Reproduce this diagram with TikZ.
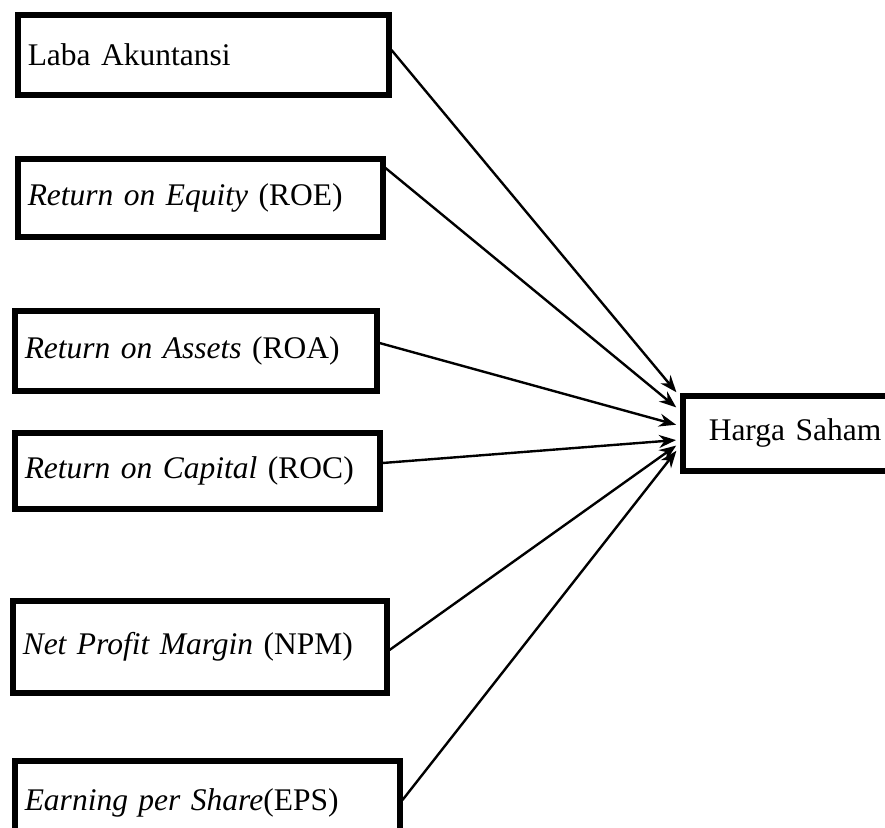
\documentclass[tikz,border=0pt]{standalone}
\usepackage{fontspec}
\setmainfont{Liberation Serif}
\usetikzlibrary{calc,arrows.meta}
\begin{document}
\begin{tikzpicture}[x=1pt,y=-1pt,
  box/.style={draw,line width=5.5pt,anchor=north west,inner xsep=10pt,inner ysep=0pt,
    align=left,font=\fontsize{31.5}{36}\selectfont},
  conn/.style={line width=2.4pt,-{Stealth[length=17pt,width=13pt]},shorten >=1pt}]
\useasboundingbox (0,0) rectangle (885,827);
\node[box,minimum height=80pt,text width=351pt] (b1) at (15,12) {Laba Akuntansi};
\node[box,minimum height=78pt,text width=345pt] (b2) at (15,156) {\textit{Return on Equity} (ROE)};
\node[box,minimum height=80pt,text width=342pt] (b3) at (12,308) {\textit{Return on Assets} (ROA)};
\node[box,minimum height=76pt,text width=345pt] (b4) at (12,430) {\textit{Return on Capital} (ROC)};
\node[box,minimum height=92pt,text width=354pt] (b5) at (10,598) {\textit{Net Profit Margin} (NPM)};
\node[box,minimum height=84pt,text width=365pt] (b6) at (12,758) {\textit{Earning per Share}(EPS)};
\node[box,minimum height=75pt,text width=220pt,inner xsep=26pt] (hs) at (680,393) {Harga Saham};
\coordinate (s1) at ($(b1.north east)+(0,38)$);
\coordinate (s2) at ($(b2.north east)+(0,12)$);
\coordinate (s3) at ($(b3.north east)+(0,35)$);
\coordinate (s4) at ($(b4.north east)+(0,33)$);
\coordinate (s5) at ($(b5.north east)+(0,52)$);
\coordinate (s6) at ($(b6.north east)+(0,42)$);
\coordinate (e1) at ($(hs.north west)+(-3,0)$);
\coordinate (e2) at ($(hs.north west)+(-3,15)$);
\coordinate (e3) at ($(hs.north west)+(-3,32)$);
\coordinate (e4) at ($(hs.north west)+(-3,47)$);
\coordinate (e5) at ($(hs.north west)+(-3,52)$);
\coordinate (e6) at ($(hs.north west)+(-3,57)$);
\draw[conn] (s1) -- (e1);
\draw[conn] (s2) -- (e2);
\draw[conn] (s3) -- (e3);
\draw[conn] (s4) -- (e4);
\draw[conn] (s5) -- (e5);
\draw[conn] (s6) -- (e6);
\end{tikzpicture}
\end{document}
